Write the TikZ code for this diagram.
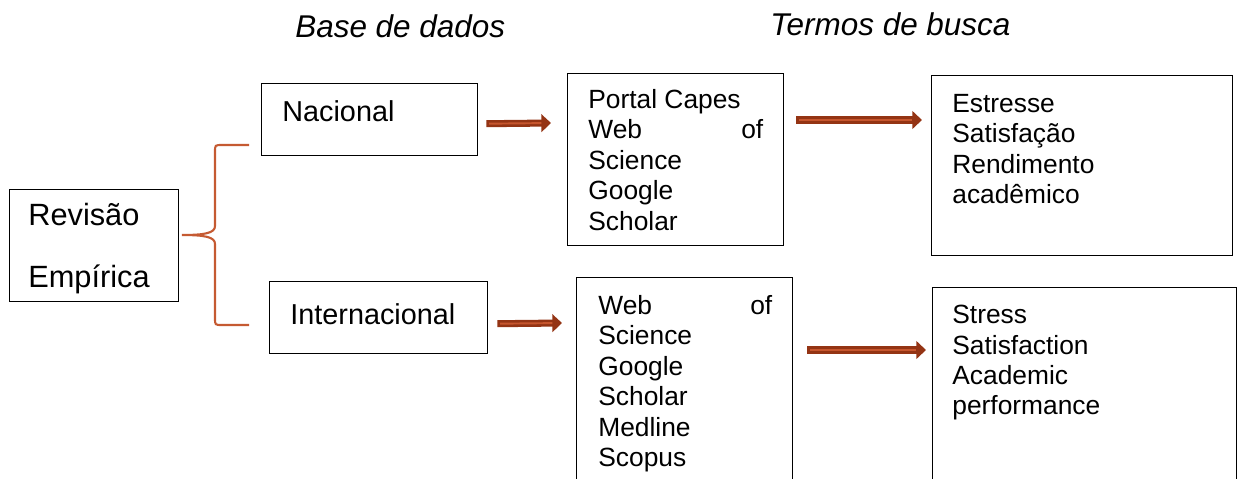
\documentclass[tikz,border=0pt]{standalone}
\usepackage{fontspec}
\setmainfont{Liberation Sans}
\usepackage{tikz}
\usetikzlibrary{arrows.meta}
\definecolor{arrdark}{RGB}{148,52,20}
\definecolor{arrlight}{RGB}{198,86,46}
\definecolor{bracered}{RGB}{197,90,50}

\begin{document}
\begin{tikzpicture}[x=0.02cm,y=-0.02cm,
	arr/.style={draw=arrdark,line width=4pt,-{Triangle[length=5.5pt,width=10pt]},
	            postaction={draw=arrlight,line width=1.1pt,-,shorten <=1.5pt,shorten >=5.5pt}}]
	\useasboundingbox (0,0) rectangle (1241,478);

	% headers
	\begin{scope}[every node/.style={anchor=north west,inner sep=0pt,font=\fontsize{17.9}{20}\selectfont\itshape}]
	    \node (hbase) at (295,14) {Base de dados};
	    \node (hterm) at (770,12) {Termos de busca};
	\end{scope}

	% boxes
	\begin{scope}[every node/.style={draw,line width=0.8pt,inner sep=0pt,anchor=north west}]
	    \node[minimum width=3.38cm,minimum height=2.24cm] (rev) at (9,189) {};
	    \node[minimum width=4.32cm,minimum height=1.44cm] (nac) at (261,83) {};
	    \node[minimum width=4.36cm,minimum height=1.44cm] (intl) at (269,281) {};
	    \node[minimum width=4.32cm,minimum height=3.44cm] (portal) at (567,73) {};
	    \node[minimum width=4.32cm,minimum height=4.60cm] (webs) at (576,277) {};
	    \node[minimum width=6.02cm,minimum height=3.60cm] (estr) at (931,75) {};
	    \node[minimum width=6.08cm,minimum height=4.40cm] (stress) at (932,287) {};
	\end{scope}

	% texts
	\begin{scope}[every node/.style={anchor=north west,inner sep=0pt,align=left,font=\fontsize{15}{17.3}\selectfont}]
	    \node[font=\fontsize{17.5}{35}\selectfont] (revtxt) at (28,203) {Revisão\\Empírica};
	    \node[font=\fontsize{16.4}{19}\selectfont] (nactxt) at (282,100) {Nacional};
	    \node[font=\fontsize{16.4}{19}\selectfont] (intltxt) at (290,303) {Internacional};
	    \node (portaltxt) at (588,89) {Portal Capes\\\makebox[3.5cm]{Web\hfill of}\\Science\\Google\\Scholar};
	    \node (webstxt) at (598,295) {\makebox[3.48cm]{Web\hfill of}\\Science\\Google\\Scholar\\Medline\\Scopus};
	    \node (estrtxt) at (952,94) {Estresse\\Satisfação\\Rendimento\\acadêmico};
	    \node (stresstxt) at (952,305) {Stress\\Satisfaction\\Academic\\performance};
	\end{scope}

	% brace
	\draw[bracered,line width=1.2pt] (249,145) -- (222,145) .. controls (215,145) .. (215,152)
	    -- (215,226) .. controls (215,233) and (205,235) .. (182,235)
	    .. controls (205,235) and (215,237) .. (215,244)
	    -- (215,318) .. controls (215,325) .. (222,325) -- (249,325);

	% arrows
	\path[arr] ([shift={(8,4)}]nac.east) -- ([shift={(-16,50)}]portal.north west);
	\path[arr] ([shift={(12,47)}]portal.north east) -- ([shift={(-9,45)}]estr.north west);
	\path[arr] ([shift={(9,6)}]intl.east) -- ([shift={(-14,46)}]webs.north west);
	\path[arr] ([shift={(14,73)}]webs.north east) -- ([shift={(-6,63)}]stress.north west);
\end{tikzpicture}
\end{document}
